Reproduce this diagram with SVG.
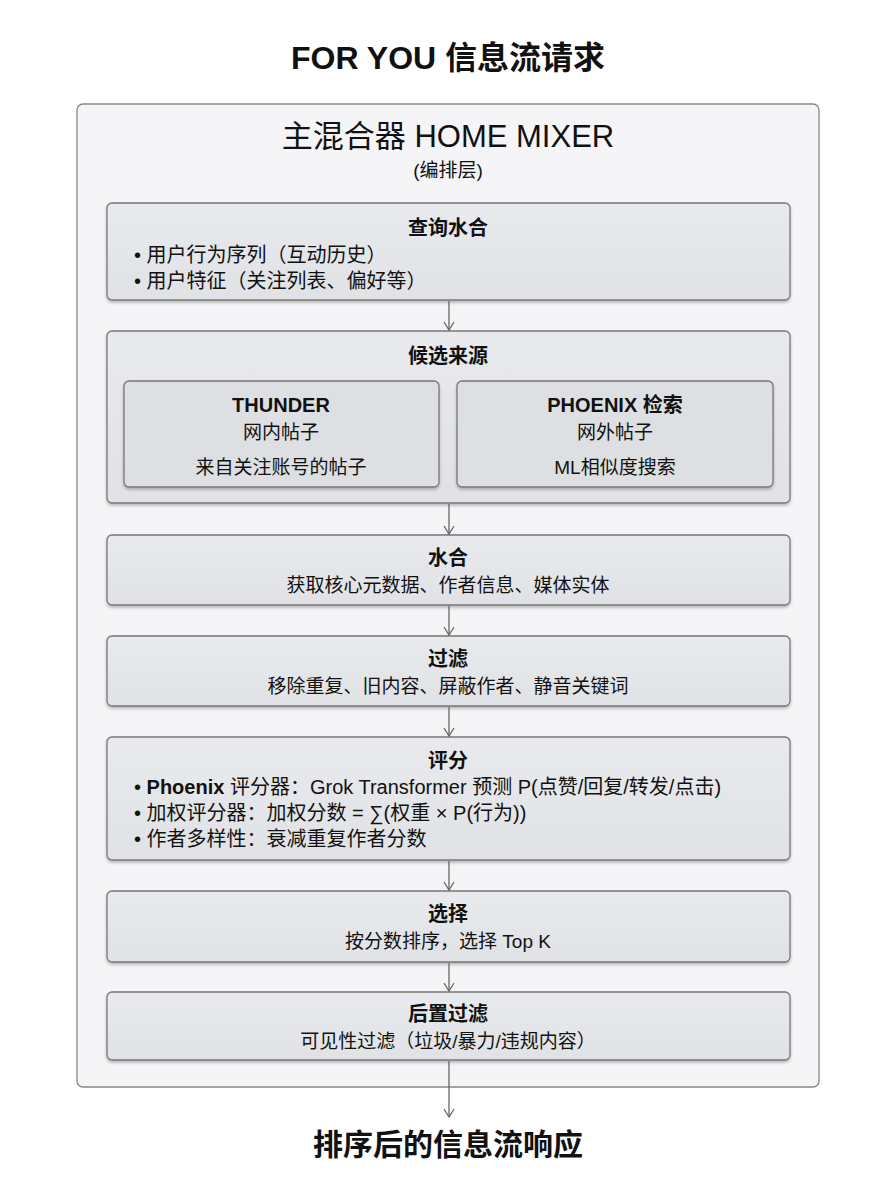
<svg xmlns="http://www.w3.org/2000/svg" width="896" height="1200" viewBox="0 0 896 1200">
<defs>
<marker id="ah" viewBox="0 0 12 12" refX="11" refY="6" markerWidth="12" markerHeight="12" markerUnits="userSpaceOnUse" orient="auto">
<path d="M3,1 L11,6 L3,11" fill="none" stroke="#666" stroke-width="1.3"/>
</marker>
<linearGradient id="g" x1="0" y1="0" x2="0" y2="1"><stop offset="0" stop-color="#e9eaed"/><stop offset="1" stop-color="#e1e2e5"/></linearGradient>
<filter id="sh" x="-5%" y="-10%" width="110%" height="130%"><feDropShadow dx="0" dy="2" stdDeviation="1.5" flood-color="#000" flood-opacity="0.25"/></filter>
</defs>
<style>
text{font-family:"Liberation Sans","Noto Sans CJK SC",sans-serif;fill:#111}
.box{fill:url(#g);stroke:#777;stroke-width:1.3;filter:url(#sh)}
.sub{fill:#dedfe2;stroke:#777;stroke-width:1.3;filter:url(#sh)}
.h{font-size:20px;font-weight:bold;text-anchor:middle}
.t{font-size:19px;text-anchor:middle}
.l{font-size:20px}
.c{stroke:#666;stroke-width:1.3;fill:none;marker-end:url(#ah)}
</style>
<rect width="896" height="1200" fill="#fff"/>
<text x="448" y="69" font-size="32" font-weight="bold" text-anchor="middle">FOR YOU 信息流请求</text>
<g id="mixer">
<rect x="77" y="104" width="742" height="983" rx="6" fill="#f5f5f7" stroke="#888" stroke-width="1.3"/>
<text x="448" y="147" font-size="31" text-anchor="middle">主混合器 HOME MIXER</text>
<text x="448" y="177" class="t">(编排层)</text>
</g>
<g id="query">
<rect class="box" x="107" y="203" width="683" height="97" rx="5"/>
<text class="h" x="448" y="235">查询水合</text>
<text class="l" x="134" y="262">• 用户行为序列（互动历史）</text>
<text class="l" x="134" y="288">• 用户特征（关注列表、偏好等）</text>
</g>
<g id="sources">
<rect class="box" x="107" y="331" width="683" height="172" rx="5"/>
<text class="h" x="448" y="363">候选来源</text>
</g>
<g id="thunder">
<rect class="sub" x="124" y="381" width="315" height="106" rx="5"/>
<text class="h" x="281" y="412">THUNDER</text>
<text class="t" x="281" y="439">网内帖子</text>
<text class="t" x="281" y="474">来自关注账号的帖子</text>
</g>
<g id="phoenix">
<rect class="sub" x="457" y="381" width="316" height="106" rx="5"/>
<text class="h" x="615" y="412">PHOENIX 检索</text>
<text class="t" x="615" y="439">网外帖子</text>
<text class="t" x="615" y="474">ML相似度搜索</text>
</g>
<g id="hydrate">
<rect class="box" x="107" y="535" width="683" height="70" rx="5"/>
<text class="h" x="448" y="565">水合</text>
<text class="t" x="448" y="592">获取核心元数据、作者信息、媒体实体</text>
</g>
<g id="filter">
<rect class="box" x="107" y="636" width="683" height="70" rx="5"/>
<text class="h" x="448" y="666">过滤</text>
<text class="t" x="448" y="693">移除重复、旧内容、屏蔽作者、静音关键词</text>
</g>
<g id="score">
<rect class="box" x="107" y="737" width="683" height="123" rx="5"/>
<text class="h" x="448" y="768">评分</text>
<text class="l" x="134" y="794">• <tspan font-weight="bold">Phoenix</tspan> 评分器：Grok Transformer 预测 P(点赞/回复/转发/点击)</text>
<text class="l" x="134" y="820">• 加权评分器：加权分数 = ∑(权重 × P(行为))</text>
<text class="l" x="134" y="846">• 作者多样性：衰减重复作者分数</text>
</g>
<g id="select">
<rect class="box" x="107" y="891" width="683" height="71" rx="5"/>
<text class="h" x="448" y="921">选择</text>
<text class="t" x="448" y="948">按分数排序，选择 Top K</text>
</g>
<g id="postfilter">
<rect class="box" x="107" y="992" width="683" height="68" rx="5"/>
<text class="h" x="448" y="1021">后置过滤</text>
<text class="t" x="448" y="1048">可见性过滤（垃圾/暴力/违规内容）</text>
</g>
<g id="connectors">
<line class="c" x1="449" y1="301" x2="449" y2="330"/>
<line class="c" x1="449" y1="504" x2="449" y2="534"/>
<line class="c" x1="449" y1="606" x2="449" y2="635"/>
<line class="c" x1="449" y1="707" x2="449" y2="736"/>
<line class="c" x1="449" y1="861" x2="449" y2="890"/>
<line class="c" x1="449" y1="963" x2="449" y2="991"/>
<line class="c" x1="449" y1="1061" x2="449" y2="1117"/>
</g>
<text x="448" y="1155" font-size="30" font-weight="bold" text-anchor="middle">排序后的信息流响应</text>
</svg>
